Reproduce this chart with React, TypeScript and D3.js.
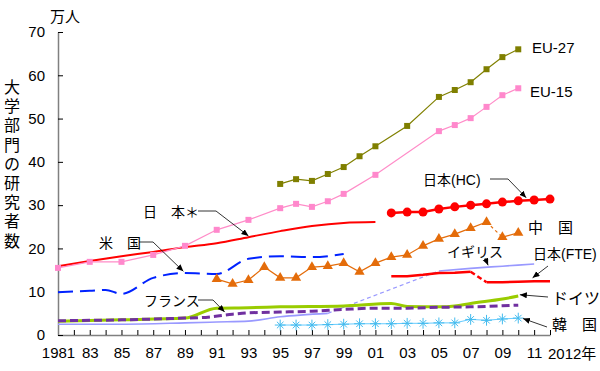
import React, { useRef, useEffect } from 'react';
import * as d3 from 'd3';

type Pt = [number, number];

// values (万人)
const eu27: Pt[] = [[1995, 34.9], [1996, 36.0], [1997, 35.6], [1998, 37.2], [1999, 38.8], [2000, 41.3], [2001, 43.6], [2003, 48.3], [2005, 55.0], [2006, 56.6], [2007, 58.4], [2008, 61.4], [2009, 64.2], [2010, 66.0]];
const eu15: Pt[] = [[1981, 15.5], [1983, 16.9], [1985, 16.9], [1987, 18.5], [1989, 20.6], [1991, 24.3], [1993, 26.6], [1995, 29.3], [1996, 30.3], [1997, 29.6], [1998, 30.9], [1999, 32.6], [2001, 37.0], [2005, 47.1], [2006, 48.5], [2007, 50.1], [2008, 52.7], [2009, 55.4], [2010, 57.0]];
const japanStar: Pt[] = [[1981, 15.9], [1983, 17.1], [1985, 18.2], [1987, 19.2], [1989, 20.3], [1991, 21.2], [1993, 22.6], [1995, 24.0], [1997, 25.2], [1999, 25.9], [2001, 26.1]];
const japanHc: Pt[] = [[2002, 28.2], [2003, 28.4], [2004, 28.4], [2005, 29.1], [2006, 29.6], [2007, 30.0], [2008, 30.3], [2009, 30.7], [2010, 31.0], [2011, 31.2], [2012, 31.4]];
const china: Pt[] = [[1991, 12.9], [1992, 11.8], [1993, 12.7], [1994, 15.7], [1995, 13.2], [1996, 13.2], [1997, 15.7], [1998, 15.9], [1999, 16.6], [2000, 14.6], [2001, 16.6], [2002, 18.0], [2003, 18.5], [2004, 20.6], [2005, 22.2], [2006, 23.3], [2007, 24.7], [2008, 26.1], [2009, 22.6], [2010, 23.6]];
const us: Pt[] = [[1981, 9.9], [1983, 10.2], [1984, 10.4], [1985, 9.5], [1987, 13.2], [1989, 14.3], [1991, 14.1], [1993, 17.6], [1995, 18.2], [1997, 18.0], [1999, 18.7]];
const uk: Pt[] = [[1981, 2.5], [1985, 2.5], [1989, 2.8], [1991, 3.0], [1993, 3.2], [1995, 4.2], [1998, 5.0], [2005, 14.8], [2007, 15.4], [2009, 15.9], [2011, 16.4]];
const japanFte: Pt[] = [[2002, 13.6], [2003, 13.6], [2004, 13.9], [2005, 14.3], [2006, 14.4], [2007, 14.6], [2008, 12.2], [2009, 12.2], [2010, 12.3], [2011, 12.4], [2012, 12.4]];
const germany: Pt[] = [[1981, 3.2], [1985, 3.5], [1989, 3.9], [1991, 6.2], [1993, 6.3], [1995, 6.5], [1999, 6.7], [2002, 7.3], [2003, 6.6], [2005, 6.5], [2006, 6.7], [2007, 7.3], [2009, 8.3], [2010, 9.0]];
const france: Pt[] = [[1981, 3.3], [1985, 3.5], [1989, 3.9], [1990, 4.0], [1992, 4.8], [1993, 5.1], [1995, 5.3], [1997, 5.5], [1999, 5.9], [2001, 6.2], [2003, 6.2], [2005, 6.4], [2007, 6.5], [2010, 6.9]];
const korea: Pt[] = [[1995, 2.3], [1996, 2.3], [1997, 2.3], [1998, 2.4], [1999, 2.5], [2000, 2.6], [2001, 2.6], [2002, 2.6], [2003, 2.7], [2004, 2.7], [2005, 2.8], [2006, 2.8], [2007, 3.6], [2008, 3.4], [2009, 3.7], [2010, 3.9]];

const yTicks = [0, 10, 20, 30, 40, 50, 60, 70];
const yearTicks = d3.range(1981, 2013);
const yTitle = ['大', '学', '部', '門', 'の', '研', '究', '者', '数'];

const FONT = '"Liberation Sans", "Noto Sans CJK JP", sans-serif';

export default function App() {
  const svgRef = useRef<SVGSVGElement>(null);

  useEffect(() => {
    const svg = d3.select(svgRef.current);
    svg.selectAll('*').remove();

    const x = d3.scaleLinear().domain([1981, 2012]).range([58, 550]);
    const y = d3.scaleLinear().domain([0, 70]).range([335, 32]);

    svg.append('rect').attr('width', 600).attr('height', 371).attr('fill', '#ffffff');

    const defs = svg.append('defs');
    defs.append('marker')
      .attr('id', 'arr')
      .attr('markerUnits', 'userSpaceOnUse')
      .attr('markerWidth', 8).attr('markerHeight', 8)
      .attr('refX', 7).attr('refY', 3)
      .attr('orient', 'auto')
      .append('path').attr('d', 'M0,0 L7,3 L0,6 Z').attr('fill', '#000');

    // axes
    const xAxis = d3.axisBottom(x)
      .tickValues(yearTicks)
      .tickSizeInner(-5).tickSizeOuter(0)
      .tickPadding(12)
      .tickFormat((d: any) => {
        if (d === 1981) return '1981';
        if (d % 2 === 1) return String(d % 100).padStart(2, '0');
        return '';
      });
    const gx = svg.append('g').attr('transform', 'translate(0,335)').call(xAxis);
    gx.selectAll('line').attr('stroke', '#000');
    gx.select('.domain').attr('stroke', '#808080').attr('stroke-width', 1.5);
    gx.selectAll('text').attr('font-size', 15).attr('font-family', FONT).attr('fill', '#000');

    const yAxis = d3.axisLeft(y).tickValues(yTicks).tickSizeInner(-5).tickSizeOuter(0).tickPadding(13);
    const gy = svg.append('g').attr('transform', 'translate(58,0)').call(yAxis);
    gy.selectAll('line').attr('stroke', '#000');
    gy.select('.domain').attr('stroke', '#808080').attr('stroke-width', 1.5);
    gy.selectAll('text').attr('font-size', 15).attr('font-family', FONT).attr('fill', '#000');

    svg.append('text').attr('x', 548).attr('y', 359).attr('font-size', 15).attr('font-family', FONT).text('2012年');
    svg.append('text').attr('x', 50).attr('y', 22).attr('font-size', 15).attr('font-family', FONT).text('万人');
    svg.append('g').selectAll('text').data(yTitle).enter().append('text')
      .attr('x', 12).attr('y', (d, i) => 93 + i * 19.2)
      .attr('text-anchor', 'middle')
      .attr('font-size', 16).attr('font-family', FONT)
      .text(d => d);

    const straight = d3.line<Pt>().x(d => x(d[0])).y(d => y(d[1]));
    const smooth = d3.line<Pt>().x(d => x(d[0])).y(d => y(d[1])).curve(d3.curveMonotoneX);

    function drawLine(data: Pt[], color: string, width: number, opts: any = {}) {
      const gen = opts.smooth ? smooth : straight;
      const parts: { pts: Pt[]; dash?: string; w: number }[] = [];
      if (opts.gap) {
        const [a, b] = opts.gap;
        parts.push({ pts: data.filter(d => d[0] <= a), dash: opts.dash, w: width });
        parts.push({ pts: data.filter(d => d[0] === a || d[0] === b), dash: opts.gapDash, w: opts.gapWidth || width });
        parts.push({ pts: data.filter(d => d[0] >= b), dash: opts.dash, w: width });
      } else {
        parts.push({ pts: data, dash: opts.dash, w: width });
      }
      parts.forEach(p => {
        svg.append('path')
          .datum(p.pts)
          .attr('d', gen)
          .attr('fill', 'none')
          .attr('stroke', color)
          .attr('stroke-width', p.w)
          .attr('stroke-dasharray', p.dash || null);
      });
    }

    function drawMarkers(data: Pt[], type: string, color: string) {
      const g = svg.append('g');
      if (type === 'square') {
        g.selectAll('rect').data(data).enter().append('rect')
          .attr('x', d => x(d[0]) - 3).attr('y', d => y(d[1]) - 3)
          .attr('width', 6).attr('height', 6).attr('fill', color);
      } else if (type === 'circle') {
        g.selectAll('circle').data(data).enter().append('circle')
          .attr('cx', d => x(d[0])).attr('cy', d => y(d[1])).attr('r', 4.5).attr('fill', color);
      } else if (type === 'triangle') {
        g.selectAll('path').data(data).enter().append('path')
          .attr('d', d3.symbol().type(d3.symbolTriangle).size(45)())
          .attr('transform', d => `translate(${x(d[0])},${y(d[1])})`)
          .attr('fill', color);
      } else if (type === 'star') {
        [d3.symbolPlus, d3.symbolTimes].forEach(t => {
          g.append('g').selectAll('path').data(data).enter().append('path')
            .attr('d', d3.symbol().type(t).size(t === d3.symbolPlus ? 40 : 30)())
            .attr('transform', d => `translate(${x(d[0])},${y(d[1])})`)
            .attr('fill', 'none').attr('stroke', color).attr('stroke-width', 1);
        });
      }
    }

    drawLine(uk, '#9999ff', 1.6, { smooth: true, gap: [1998, 2005], gapDash: '4,3', gapWidth: 1.2 });
    drawLine(korea, '#66ccff', 1);
    drawMarkers(korea, 'star', '#44bbee');
    drawLine(germany, '#99cc00', 3, { smooth: true });
    drawLine(france, '#7030a0', 3, { smooth: true, dash: '8,4' });
    drawLine(us, '#0022ff', 2, { smooth: true, dash: '15,7' });
    drawLine(japanFte, '#ff0000', 2.5, { gap: [2007, 2008], gapDash: '5,3' });
    drawLine(china, '#e46c0a', 1.2, { gap: [2008, 2009], gapDash: '3,3' });
    drawMarkers(china, 'triangle', '#e46c0a');
    drawLine(japanStar, '#ff0000', 2, { smooth: true });
    drawLine(japanHc, '#ff0000', 2.5);
    drawMarkers(japanHc, 'circle', '#ff0000');
    drawLine(eu15, '#ff8cc8', 1.2);
    drawMarkers(eu15, 'square', '#ff88cc');
    drawLine(eu27, '#808000', 1.2);
    drawMarkers(eu27, 'square', '#7f7f00');

    // labels
    const labels: [string, number, number, number][] = [
      ['EU-27', 532, 53, 15],
      ['EU-15', 530, 97, 15],
      ['日　本＊', 143, 217, 14],
      ['米　国', 99, 248, 14],
      ['日本(HC)', 423, 185, 14],
      ['中　国', 528, 233, 15],
      ['イギリス', 447, 257, 14],
      ['日本(FTE)', 533, 259, 14],
      ['ドイツ', 552, 304, 16],
      ['韓　国', 552, 330, 15],
      ['フランス', 144, 306, 14],
    ];
    svg.append('g').selectAll('text').data(labels).enter().append('text')
      .attr('x', d => d[1]).attr('y', d => d[2])
      .attr('font-size', d => d[3]).attr('font-family', FONT)
      .text(d => d[0]);

    // leader lines with arrows
    const leaders: Pt[][] = [
      [[198, 211], [216, 211], [x(1993), y(22.9)]],
      [[139, 242], [153, 242], [x(1988.9), y(14.7)]],
      [[490, 179], [508, 179], [x(2010.5), y(31.7)]],
      [[485, 258], [x(2008.1), y(16.1)]],
      [[548, 266], [x(2010.9), y(13.2)]],
      [[548, 297], [x(2010.1), y(9.3)]],
      [[547, 327], [x(2010.3), y(3.8)]],
      [[198, 300], [213, 300], [x(1991.5), y(5.3)]],
    ];
    leaders.forEach(pts => {
      svg.append('path')
        .attr('d', d3.line()(pts as any))
        .attr('fill', 'none')
        .attr('stroke', '#000')
        .attr('stroke-width', 0.8)
        .attr('marker-end', 'url(#arr)');
    });
  }, []);

  return (
    <div style={{ position: 'absolute', left: 0, top: 0 }}>
      <svg ref={svgRef} width={600} height={371}></svg>
    </div>
  );
}
